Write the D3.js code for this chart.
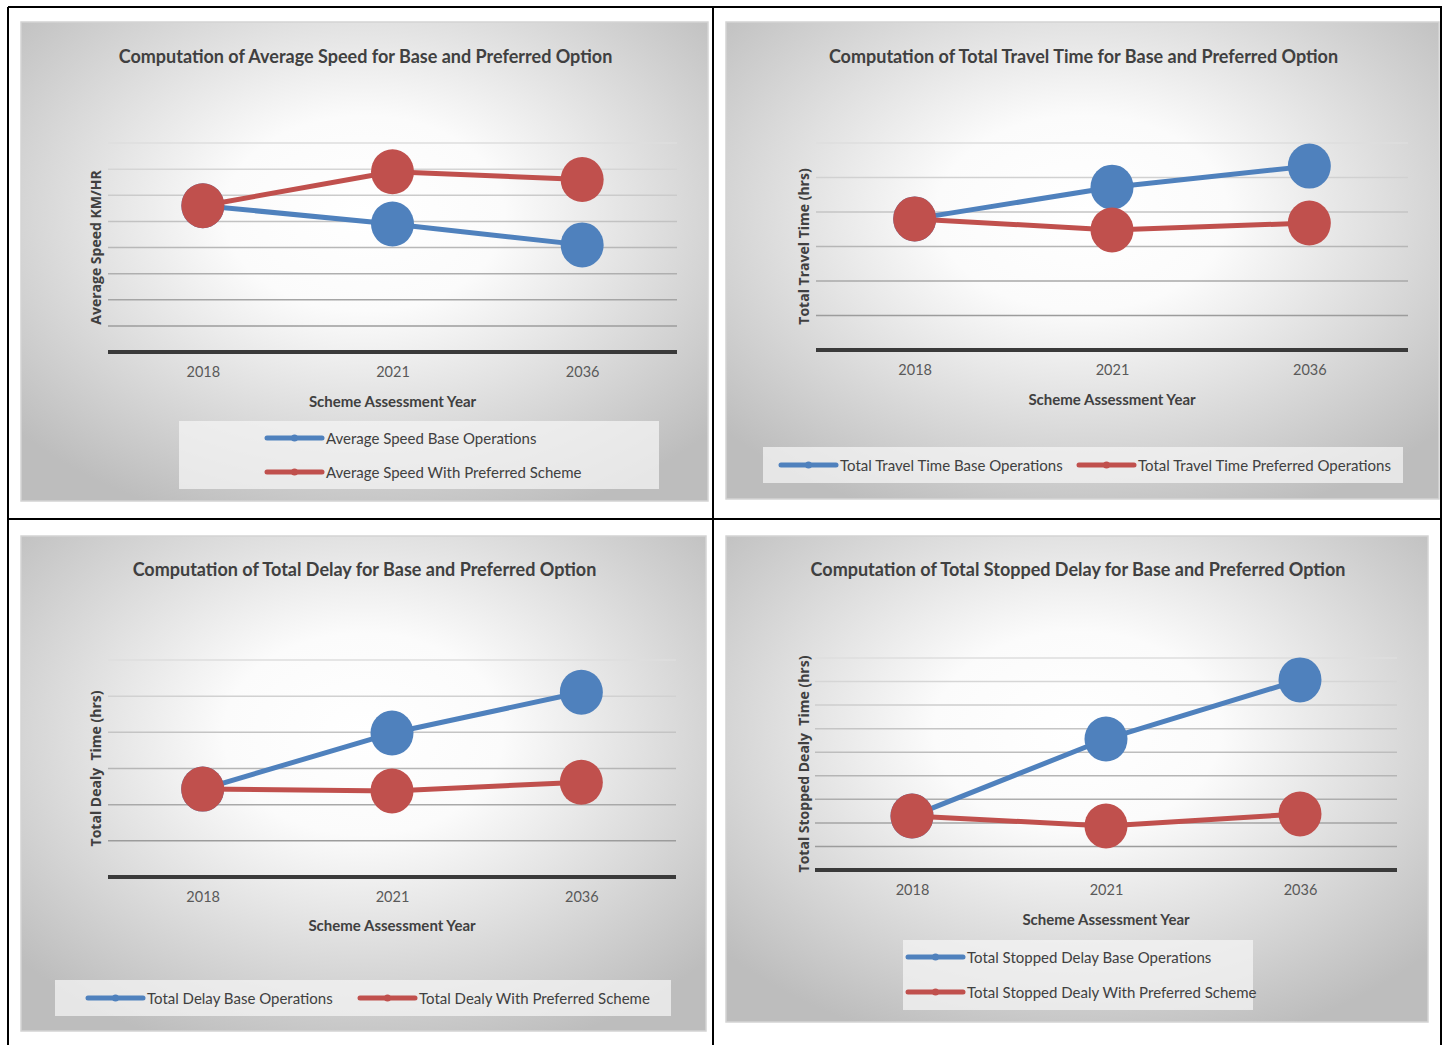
<!DOCTYPE html>
<html>
<head>
<meta charset="utf-8">
<script src="https://cdn.jsdelivr.net/npm/d3@7"></script>
<style>
  body { margin: 0; background: #ffffff; }
  svg text { font-family: Lato, "Noto Sans", sans-serif; }
</style>
</head>
<body>
<div id="chart"></div>
<script>
const years = ["2018", "2021", "2036"];

const speedBase = [56, 49, 41];
const speedPreferred = [56, 69, 66];

const travelBase = [380, 472, 533];
const travelPreferred = [380, 348, 368];

const delayBase = [243, 398, 511];
const delayPreferred = [243, 238, 262];

const stoppedBase = [229, 556, 807];
const stoppedPreferred = [229, 187, 238];

const titles = [
  "Computation of Average Speed for Base and Preferred Option",
  "Computation of Total Travel Time for Base and Preferred Option",
  "Computation of Total Delay for Base and Preferred Option",
  "Computation of Total Stopped Delay for Base and Preferred Option"
];
const yTitles = [
  "Average Speed KM/HR",
  "Total Travel Time (hrs)",
  "Total Dealy\u00a0 Time (hrs)",
  "Total Stopped Dealy\u00a0 Time (hrs)"
];
const legendLabels = [
  ["Average Speed Base Operations", "Average Speed With Preferred Scheme"],
  ["Total Travel Time Base Operations", "Total Travel Time Preferred Operations"],
  ["Total Delay Base Operations", "Total Dealy With Preferred Scheme"],
  ["Total Stopped Delay Base Operations", "Total Stopped Dealy With Preferred Scheme"]
];
const xTitle = "Scheme Assessment Year";
const yMaxes = [80, 600, 600, 900];
const ySteps = [10, 100, 100, 100];

const blue = "#4f81bd";
const red = "#c0504d";

const width = 1451;
const height = 1045;

const svg = d3.select("#chart").append("svg")
  .attr("width", width)
  .attr("height", height);

const defs = svg.append("defs");
const grad = defs.append("radialGradient")
  .attr("id", "bg")
  .attr("cx", "50%").attr("cy", "40%").attr("r", "68%");
grad.append("stop").attr("offset", "0%").attr("stop-color", "#ffffff");
grad.append("stop").attr("offset", "30%").attr("stop-color", "#fbfbfb");
grad.append("stop").attr("offset", "100%").attr("stop-color", "#bdbdbd");

// layout of each panel (page coordinates)
const layouts = [
  { panel: [21, 22, 687, 479], plot: [108, 677, 143, 352], titleY: 56, tickY: 373, xTitleY: 401, yTitleX: 95,
    legend: { box: [179, 421, 480, 68], rows: [[267, 438, 0], [267, 472, 1]] } },
  { panel: [726, 22, 713, 477], plot: [816, 1408, 143, 350], titleY: 56, tickY: 371, xTitleY: 399, yTitleX: 803,
    legend: { box: [763, 447, 640, 36], rows: [[781, 465, 0], [1079, 465, 1]] } },
  { panel: [21, 536, 685, 495], plot: [108, 676, 660, 877], titleY: 569, tickY: 898, xTitleY: 925, yTitleX: 95,
    legend: { box: [55, 980, 616, 36], rows: [[88, 998, 0], [360, 998, 1]] } },
  { panel: [726, 536, 702, 486], plot: [815, 1397, 658, 870], titleY: 569, tickY: 891, xTitleY: 919, yTitleX: 803,
    legend: { box: [903, 940, 350, 70], rows: [[908, 957, 0], [908, 992, 1]] } }
];

const seriesList = [
  [speedBase, speedPreferred],
  [travelBase, travelPreferred],
  [delayBase, delayPreferred],
  [stoppedBase, stoppedPreferred]
];

layouts.forEach((L, i) => {
  const [px, py, pw, ph] = L.panel;
  const [x0, x1, yTop, yAxis] = L.plot;
  const g = svg.append("g");

  g.append("rect")
    .attr("x", px).attr("y", py).attr("width", pw).attr("height", ph)
    .attr("fill", "url(#bg)")
    .attr("stroke", "#d4d4d4").attr("stroke-width", 1.5);

  g.append("text")
    .attr("x", px + pw / 2 + 1).attr("y", L.titleY)
    .attr("text-anchor", "middle").attr("dominant-baseline", "central")
    .attr("font-size", 18).attr("font-weight", "bold").attr("fill", "#404040")
    .text(titles[i]);

  const x = d3.scalePoint().domain(years).range([x0, x1]).padding(0.5);
  const y = d3.scaleLinear().domain([0, yMaxes[i]]).range([yAxis, yTop]);

  const gridVals = d3.range(ySteps[i], yMaxes[i] + ySteps[i] / 2, ySteps[i]);
  const gridColor = d3.scaleLinear().domain([yMaxes[i], ySteps[i]]).range(["#dedede", "#9c9c9c"]);

  g.append("g")
    .selectAll("line")
    .data(gridVals)
    .enter()
    .append("line")
    .attr("x1", x0).attr("x2", x1)
    .attr("y1", (d) => y(d)).attr("y2", (d) => y(d))
    .attr("stroke", (d) => gridColor(d))
    .attr("stroke-width", 1.5);

  // x axis
  const xAxis = g.append("g")
    .attr("transform", `translate(0, ${yAxis})`)
    .call(d3.axisBottom(x).tickSize(0).tickPadding(L.tickY - yAxis - 6));
  xAxis.select(".domain").remove();
  xAxis.append("line")
    .attr("x1", x0).attr("x2", x1).attr("y1", 0).attr("y2", 0)
    .attr("stroke", "#3a3a3a").attr("stroke-width", 4);
  xAxis.selectAll(".tick text")
    .attr("font-family", "Lato, sans-serif")
    .attr("font-size", 14.5).attr("fill", "#595959");

  g.append("text")
    .attr("x", (x0 + x1) / 2).attr("y", L.xTitleY)
    .attr("text-anchor", "middle").attr("dominant-baseline", "central")
    .attr("font-size", 15).attr("font-weight", "bold").attr("fill", "#404040")
    .text(xTitle);

  g.append("text")
    .attr("transform", `translate(${L.yTitleX}, ${(yTop + yAxis) / 2}) rotate(-90)`)
    .attr("text-anchor", "middle").attr("dominant-baseline", "central")
    .style("font-family", "'Open Sans', sans-serif")
    .attr("font-size", 14).attr("font-weight", "bold").attr("fill", "#404040")
    .text(yTitles[i]);

  const line = d3.line()
    .x((d, j) => x(years[j]))
    .y((d) => y(d));

  seriesList[i].forEach((vals, s) => {
    const color = s === 0 ? blue : red;
    g.append("path")
      .datum(vals)
      .attr("d", line)
      .attr("fill", "none")
      .attr("stroke", color)
      .attr("stroke-width", 5)
      .attr("stroke-linejoin", "round");
    g.append("g")
      .selectAll("ellipse")
      .data(vals)
      .enter()
      .append("ellipse")
      .attr("cx", (d, j) => x(years[j]))
      .attr("cy", (d) => y(d))
      .attr("rx", 21.5).attr("ry", 22.5)
      .attr("fill", color);
  });

  // legend
  const [lx, ly, lw, lh] = L.legend.box;
  g.append("rect")
    .attr("x", lx).attr("y", ly).attr("width", lw).attr("height", lh)
    .attr("fill", "#f4f4f4").attr("fill-opacity", 0.75);

  L.legend.rows.forEach(([rx, ry, s]) => {
    const color = s === 0 ? blue : red;
    g.append("line")
      .attr("x1", rx).attr("x2", rx + 55).attr("y1", ry).attr("y2", ry)
      .attr("stroke", color).attr("stroke-width", 5).attr("stroke-linecap", "round");
    g.append("circle")
      .attr("cx", rx + 27.5).attr("cy", ry).attr("r", 3.5).attr("fill", color);
    g.append("text")
      .attr("x", rx + 59).attr("y", ry)
      .attr("dominant-baseline", "central")
      .attr("font-size", 15).attr("fill", "#404040")
      .text(legendLabels[i][s]);
  });
});

// table borders
const borders = [
  [8, 7, 1442, 7],
  [8, 7, 8, 1045],
  [713, 7, 713, 1045],
  [1441, 7, 1441, 1045],
  [8, 519, 1442, 519]
];
svg.append("g")
  .selectAll("line")
  .data(borders)
  .enter()
  .append("line")
  .attr("x1", (d) => d[0]).attr("y1", (d) => d[1])
  .attr("x2", (d) => d[2]).attr("y2", (d) => d[3])
  .attr("stroke", "#000").attr("stroke-width", 2);
</script>
</body>
</html>
